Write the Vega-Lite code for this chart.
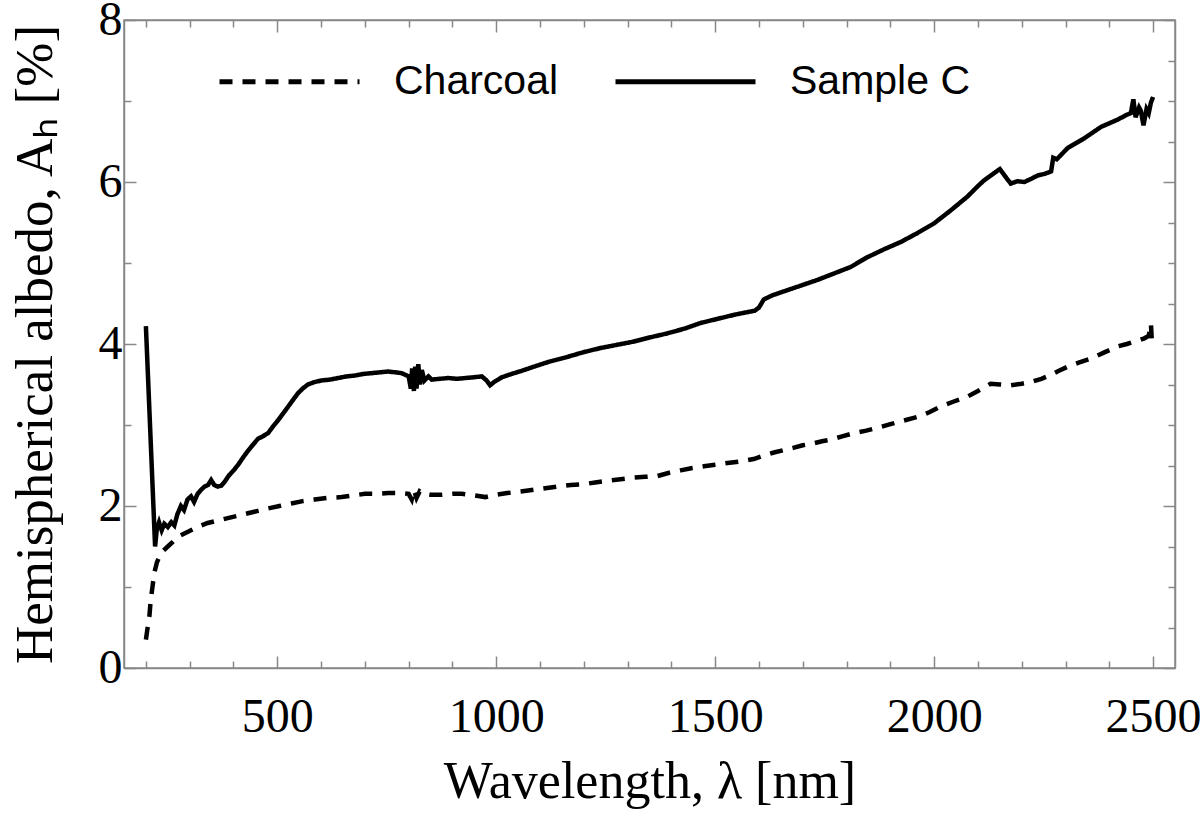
{
  "$schema": "https://vega.github.io/schema/vega-lite/v6.json",
  "width": 1051,
  "height": 648,
  "autosize": {"type": "none"},
  "padding": {"left": 124, "top": 20, "right": 25, "bottom": 155},
  "background": "white",
  "config": {
    "view": {"stroke": "#888888", "strokeWidth": 1.5},
    "axis": {
      "grid": false,
      "domainColor": "#888888",
      "domainWidth": 1.5,
      "tickColor": "#888888",
      "tickWidth": 1.5,
      "labelFont": "Liberation Serif",
      "titleFont": "Liberation Serif",
      "labelColor": "black",
      "titleColor": "black",
      "titleFontWeight": "normal"
    }
  },
  "data": {
    "values": [
      {"s": "Sample C", "w": 200, "a": 4.22},
      {"s": "Sample C", "w": 221, "a": 1.5},
      {"s": "Sample C", "w": 225, "a": 1.72},
      {"s": "Sample C", "w": 230, "a": 1.8},
      {"s": "Sample C", "w": 236, "a": 1.7},
      {"s": "Sample C", "w": 242, "a": 1.78},
      {"s": "Sample C", "w": 250, "a": 1.74},
      {"s": "Sample C", "w": 258, "a": 1.8},
      {"s": "Sample C", "w": 265, "a": 1.76},
      {"s": "Sample C", "w": 272, "a": 1.9},
      {"s": "Sample C", "w": 280, "a": 2.0},
      {"s": "Sample C", "w": 287, "a": 1.95},
      {"s": "Sample C", "w": 295, "a": 2.08},
      {"s": "Sample C", "w": 303, "a": 2.12},
      {"s": "Sample C", "w": 310, "a": 2.05},
      {"s": "Sample C", "w": 318, "a": 2.15},
      {"s": "Sample C", "w": 326, "a": 2.2},
      {"s": "Sample C", "w": 334, "a": 2.24},
      {"s": "Sample C", "w": 342, "a": 2.26},
      {"s": "Sample C", "w": 349, "a": 2.32},
      {"s": "Sample C", "w": 356, "a": 2.26},
      {"s": "Sample C", "w": 364, "a": 2.24},
      {"s": "Sample C", "w": 372, "a": 2.25},
      {"s": "Sample C", "w": 380, "a": 2.3},
      {"s": "Sample C", "w": 390, "a": 2.38},
      {"s": "Sample C", "w": 402, "a": 2.45},
      {"s": "Sample C", "w": 412, "a": 2.52},
      {"s": "Sample C", "w": 422, "a": 2.6},
      {"s": "Sample C", "w": 433, "a": 2.68},
      {"s": "Sample C", "w": 445, "a": 2.76},
      {"s": "Sample C", "w": 456, "a": 2.83},
      {"s": "Sample C", "w": 467, "a": 2.86},
      {"s": "Sample C", "w": 479, "a": 2.9},
      {"s": "Sample C", "w": 490, "a": 2.98},
      {"s": "Sample C", "w": 502, "a": 3.06},
      {"s": "Sample C", "w": 513, "a": 3.14},
      {"s": "Sample C", "w": 524, "a": 3.22},
      {"s": "Sample C", "w": 536, "a": 3.31},
      {"s": "Sample C", "w": 547, "a": 3.39},
      {"s": "Sample C", "w": 558, "a": 3.45},
      {"s": "Sample C", "w": 570, "a": 3.5},
      {"s": "Sample C", "w": 585, "a": 3.53},
      {"s": "Sample C", "w": 601, "a": 3.55},
      {"s": "Sample C", "w": 620, "a": 3.56},
      {"s": "Sample C", "w": 639, "a": 3.58},
      {"s": "Sample C", "w": 658, "a": 3.6},
      {"s": "Sample C", "w": 677, "a": 3.61},
      {"s": "Sample C", "w": 696, "a": 3.63},
      {"s": "Sample C", "w": 715, "a": 3.64},
      {"s": "Sample C", "w": 734, "a": 3.65},
      {"s": "Sample C", "w": 753, "a": 3.66},
      {"s": "Sample C", "w": 770, "a": 3.65},
      {"s": "Sample C", "w": 784, "a": 3.64},
      {"s": "Sample C", "w": 800, "a": 3.6},
      {"s": "Sample C", "w": 805, "a": 3.45},
      {"s": "Sample C", "w": 808, "a": 3.7},
      {"s": "Sample C", "w": 812, "a": 3.42},
      {"s": "Sample C", "w": 815, "a": 3.72},
      {"s": "Sample C", "w": 818, "a": 3.45},
      {"s": "Sample C", "w": 822, "a": 3.75},
      {"s": "Sample C", "w": 826, "a": 3.5},
      {"s": "Sample C", "w": 830, "a": 3.68},
      {"s": "Sample C", "w": 836, "a": 3.55},
      {"s": "Sample C", "w": 845, "a": 3.6},
      {"s": "Sample C", "w": 853, "a": 3.56},
      {"s": "Sample C", "w": 870, "a": 3.57},
      {"s": "Sample C", "w": 891, "a": 3.58},
      {"s": "Sample C", "w": 910, "a": 3.57},
      {"s": "Sample C", "w": 930, "a": 3.58},
      {"s": "Sample C", "w": 950, "a": 3.59},
      {"s": "Sample C", "w": 967, "a": 3.6},
      {"s": "Sample C", "w": 978, "a": 3.55},
      {"s": "Sample C", "w": 986, "a": 3.49},
      {"s": "Sample C", "w": 995, "a": 3.53},
      {"s": "Sample C", "w": 1013, "a": 3.59},
      {"s": "Sample C", "w": 1035, "a": 3.63},
      {"s": "Sample C", "w": 1059, "a": 3.67},
      {"s": "Sample C", "w": 1086, "a": 3.72},
      {"s": "Sample C", "w": 1120, "a": 3.78},
      {"s": "Sample C", "w": 1162, "a": 3.84},
      {"s": "Sample C", "w": 1200, "a": 3.9},
      {"s": "Sample C", "w": 1238, "a": 3.95},
      {"s": "Sample C", "w": 1276, "a": 3.99},
      {"s": "Sample C", "w": 1314, "a": 4.03},
      {"s": "Sample C", "w": 1350, "a": 4.08},
      {"s": "Sample C", "w": 1390, "a": 4.13},
      {"s": "Sample C", "w": 1430, "a": 4.19},
      {"s": "Sample C", "w": 1467, "a": 4.26},
      {"s": "Sample C", "w": 1505, "a": 4.31},
      {"s": "Sample C", "w": 1543, "a": 4.36},
      {"s": "Sample C", "w": 1570, "a": 4.39},
      {"s": "Sample C", "w": 1590, "a": 4.41},
      {"s": "Sample C", "w": 1600, "a": 4.45},
      {"s": "Sample C", "w": 1611, "a": 4.55},
      {"s": "Sample C", "w": 1630, "a": 4.6},
      {"s": "Sample C", "w": 1657, "a": 4.65},
      {"s": "Sample C", "w": 1695, "a": 4.72},
      {"s": "Sample C", "w": 1733, "a": 4.79},
      {"s": "Sample C", "w": 1771, "a": 4.87},
      {"s": "Sample C", "w": 1809, "a": 4.95},
      {"s": "Sample C", "w": 1847, "a": 5.07},
      {"s": "Sample C", "w": 1886, "a": 5.17},
      {"s": "Sample C", "w": 1924, "a": 5.26},
      {"s": "Sample C", "w": 1962, "a": 5.37},
      {"s": "Sample C", "w": 2000, "a": 5.49},
      {"s": "Sample C", "w": 2038, "a": 5.65},
      {"s": "Sample C", "w": 2076, "a": 5.82},
      {"s": "Sample C", "w": 2100, "a": 5.95},
      {"s": "Sample C", "w": 2114, "a": 6.02},
      {"s": "Sample C", "w": 2137, "a": 6.11},
      {"s": "Sample C", "w": 2150, "a": 6.16},
      {"s": "Sample C", "w": 2165, "a": 6.05},
      {"s": "Sample C", "w": 2175, "a": 5.98},
      {"s": "Sample C", "w": 2190, "a": 6.01},
      {"s": "Sample C", "w": 2206, "a": 6.0},
      {"s": "Sample C", "w": 2222, "a": 6.04},
      {"s": "Sample C", "w": 2236, "a": 6.08},
      {"s": "Sample C", "w": 2252, "a": 6.1},
      {"s": "Sample C", "w": 2267, "a": 6.13},
      {"s": "Sample C", "w": 2272, "a": 6.3},
      {"s": "Sample C", "w": 2280, "a": 6.28},
      {"s": "Sample C", "w": 2305, "a": 6.42},
      {"s": "Sample C", "w": 2343, "a": 6.54},
      {"s": "Sample C", "w": 2381, "a": 6.68},
      {"s": "Sample C", "w": 2419, "a": 6.77},
      {"s": "Sample C", "w": 2440, "a": 6.83},
      {"s": "Sample C", "w": 2449, "a": 6.85},
      {"s": "Sample C", "w": 2455, "a": 7.02},
      {"s": "Sample C", "w": 2460, "a": 6.8},
      {"s": "Sample C", "w": 2468, "a": 6.92},
      {"s": "Sample C", "w": 2472, "a": 6.88},
      {"s": "Sample C", "w": 2478, "a": 6.7},
      {"s": "Sample C", "w": 2485, "a": 6.9},
      {"s": "Sample C", "w": 2490, "a": 6.85},
      {"s": "Sample C", "w": 2495, "a": 6.98},
      {"s": "Sample C", "w": 2500, "a": 7.05},
      {"s": "Charcoal", "w": 200, "a": 0.35},
      {"s": "Charcoal", "w": 204, "a": 0.5},
      {"s": "Charcoal", "w": 208, "a": 0.64},
      {"s": "Charcoal", "w": 211, "a": 0.84},
      {"s": "Charcoal", "w": 215, "a": 1.0},
      {"s": "Charcoal", "w": 219, "a": 1.17},
      {"s": "Charcoal", "w": 225, "a": 1.3},
      {"s": "Charcoal", "w": 231, "a": 1.38},
      {"s": "Charcoal", "w": 240, "a": 1.45},
      {"s": "Charcoal", "w": 250, "a": 1.5},
      {"s": "Charcoal", "w": 262, "a": 1.56},
      {"s": "Charcoal", "w": 273, "a": 1.62},
      {"s": "Charcoal", "w": 288, "a": 1.66},
      {"s": "Charcoal", "w": 303, "a": 1.7},
      {"s": "Charcoal", "w": 322, "a": 1.75},
      {"s": "Charcoal", "w": 341, "a": 1.79},
      {"s": "Charcoal", "w": 364, "a": 1.82},
      {"s": "Charcoal", "w": 387, "a": 1.85},
      {"s": "Charcoal", "w": 410, "a": 1.88},
      {"s": "Charcoal", "w": 433, "a": 1.91},
      {"s": "Charcoal", "w": 456, "a": 1.94},
      {"s": "Charcoal", "w": 479, "a": 1.97},
      {"s": "Charcoal", "w": 505, "a": 2.0},
      {"s": "Charcoal", "w": 532, "a": 2.03},
      {"s": "Charcoal", "w": 558, "a": 2.06},
      {"s": "Charcoal", "w": 585, "a": 2.08},
      {"s": "Charcoal", "w": 615, "a": 2.1},
      {"s": "Charcoal", "w": 647, "a": 2.11},
      {"s": "Charcoal", "w": 673, "a": 2.13},
      {"s": "Charcoal", "w": 700, "a": 2.15},
      {"s": "Charcoal", "w": 727, "a": 2.15},
      {"s": "Charcoal", "w": 753, "a": 2.16},
      {"s": "Charcoal", "w": 780, "a": 2.16},
      {"s": "Charcoal", "w": 800, "a": 2.15},
      {"s": "Charcoal", "w": 807, "a": 2.08},
      {"s": "Charcoal", "w": 812, "a": 2.2},
      {"s": "Charcoal", "w": 818, "a": 2.1},
      {"s": "Charcoal", "w": 825, "a": 2.18},
      {"s": "Charcoal", "w": 830, "a": 2.16},
      {"s": "Charcoal", "w": 850, "a": 2.14},
      {"s": "Charcoal", "w": 876, "a": 2.14},
      {"s": "Charcoal", "w": 900, "a": 2.15},
      {"s": "Charcoal", "w": 921, "a": 2.15},
      {"s": "Charcoal", "w": 950, "a": 2.13},
      {"s": "Charcoal", "w": 975, "a": 2.11},
      {"s": "Charcoal", "w": 1000, "a": 2.14},
      {"s": "Charcoal", "w": 1025, "a": 2.16},
      {"s": "Charcoal", "w": 1056, "a": 2.18},
      {"s": "Charcoal", "w": 1086, "a": 2.2},
      {"s": "Charcoal", "w": 1112, "a": 2.22},
      {"s": "Charcoal", "w": 1139, "a": 2.24},
      {"s": "Charcoal", "w": 1170, "a": 2.26},
      {"s": "Charcoal", "w": 1200, "a": 2.27},
      {"s": "Charcoal", "w": 1226, "a": 2.29},
      {"s": "Charcoal", "w": 1253, "a": 2.31},
      {"s": "Charcoal", "w": 1284, "a": 2.33},
      {"s": "Charcoal", "w": 1314, "a": 2.35},
      {"s": "Charcoal", "w": 1340, "a": 2.36},
      {"s": "Charcoal", "w": 1368, "a": 2.37},
      {"s": "Charcoal", "w": 1395, "a": 2.41},
      {"s": "Charcoal", "w": 1421, "a": 2.44},
      {"s": "Charcoal", "w": 1448, "a": 2.47},
      {"s": "Charcoal", "w": 1474, "a": 2.49},
      {"s": "Charcoal", "w": 1500, "a": 2.51},
      {"s": "Charcoal", "w": 1528, "a": 2.53},
      {"s": "Charcoal", "w": 1558, "a": 2.55},
      {"s": "Charcoal", "w": 1588, "a": 2.58},
      {"s": "Charcoal", "w": 1610, "a": 2.62},
      {"s": "Charcoal", "w": 1634, "a": 2.66},
      {"s": "Charcoal", "w": 1657, "a": 2.69},
      {"s": "Charcoal", "w": 1680, "a": 2.72},
      {"s": "Charcoal", "w": 1700, "a": 2.75},
      {"s": "Charcoal", "w": 1722, "a": 2.77},
      {"s": "Charcoal", "w": 1744, "a": 2.8},
      {"s": "Charcoal", "w": 1764, "a": 2.82},
      {"s": "Charcoal", "w": 1790, "a": 2.86},
      {"s": "Charcoal", "w": 1817, "a": 2.9},
      {"s": "Charcoal", "w": 1845, "a": 2.93},
      {"s": "Charcoal", "w": 1874, "a": 2.97},
      {"s": "Charcoal", "w": 1900, "a": 3.01},
      {"s": "Charcoal", "w": 1920, "a": 3.04},
      {"s": "Charcoal", "w": 1962, "a": 3.1},
      {"s": "Charcoal", "w": 1990, "a": 3.16},
      {"s": "Charcoal", "w": 2015, "a": 3.23},
      {"s": "Charcoal", "w": 2045, "a": 3.29},
      {"s": "Charcoal", "w": 2076, "a": 3.35},
      {"s": "Charcoal", "w": 2100, "a": 3.42},
      {"s": "Charcoal", "w": 2129, "a": 3.51},
      {"s": "Charcoal", "w": 2150, "a": 3.5},
      {"s": "Charcoal", "w": 2175, "a": 3.49},
      {"s": "Charcoal", "w": 2200, "a": 3.51},
      {"s": "Charcoal", "w": 2221, "a": 3.53},
      {"s": "Charcoal", "w": 2245, "a": 3.57},
      {"s": "Charcoal", "w": 2267, "a": 3.62},
      {"s": "Charcoal", "w": 2285, "a": 3.67},
      {"s": "Charcoal", "w": 2305, "a": 3.72},
      {"s": "Charcoal", "w": 2330, "a": 3.77},
      {"s": "Charcoal", "w": 2358, "a": 3.82},
      {"s": "Charcoal", "w": 2390, "a": 3.9},
      {"s": "Charcoal", "w": 2419, "a": 3.97},
      {"s": "Charcoal", "w": 2440, "a": 4.0},
      {"s": "Charcoal", "w": 2457, "a": 4.03},
      {"s": "Charcoal", "w": 2470, "a": 4.05},
      {"s": "Charcoal", "w": 2480, "a": 4.07},
      {"s": "Charcoal", "w": 2490, "a": 4.1},
      {"s": "Charcoal", "w": 2495, "a": 4.25},
      {"s": "Charcoal", "w": 2497, "a": 4.05},
      {"s": "Charcoal", "w": 2500, "a": 4.12}
    ]
  },
  "layer": [
    {
      "mark": {"type": "line", "color": "black", "strokeWidth": 4.5},
      "encoding": {
        "x": {
          "field": "w",
          "type": "quantitative",
          "scale": {"domain": [150, 2550], "nice": false, "zero": false},
          "axis": {
            "orient": "bottom",
            "title": "Wavelength, λ [nm]",
            "format": "d",
            "values": [200, 300, 400, 500, 600, 700, 800, 900, 1000, 1100, 1200, 1300, 1400, 1500, 1600, 1700, 1800, 1900, 2000, 2100, 2200, 2300, 2400, 2500],
            "labelExpr": "datum.value % 500 === 0 ? datum.label : ''",
            "tickSize": {"condition": {"test": "datum.value % 500 === 0", "value": -12}, "value": -7},
            "labelFontSize": 48,
            "labelPadding": 37,
            "titleFontSize": 52,
            "titlePadding": 15
          }
        },
        "y": {
          "field": "a",
          "type": "quantitative",
          "scale": {"domain": [0, 8], "nice": false},
          "axis": {
            "orient": "left",
            "title": "Hemispherical albedo, Aₕ [%]",
            "format": "d",
            "values": [0, 0.5, 1, 1.5, 2, 2.5, 3, 3.5, 4, 4.5, 5, 5.5, 6, 6.5, 7, 7.5, 8],
            "labelExpr": "datum.value % 2 === 0 ? datum.label : ''",
            "tickSize": {"condition": {"test": "datum.value % 2 === 0", "value": -12}, "value": -7},
            "labelFontSize": 48,
            "labelPadding": 14,
            "titleFontSize": 53,
            "titlePadding": 36
          }
        },
        "strokeDash": {
          "field": "s",
          "type": "nominal",
          "scale": {"domain": ["Charcoal", "Sample C"], "range": [[13, 10], [1, 0]]},
          "legend": {
            "orient": "none",
            "legendX": 93,
            "legendY": -11,
            "direction": "horizontal",
            "title": null,
            "symbolType": "stroke",
            "symbolSize": 19600,
            "symbolStrokeWidth": 5,
            "symbolStrokeColor": "black",
            "labelFont": "Liberation Sans",
            "labelFontSize": 41,
            "labelColor": "black",
            "labelLimit": 400,
            "labelOffset": 32,
            "columnPadding": 46,
            "encode": {
              "symbols": {
                "update": {
                  "strokeDash": {"signal": "datum.value === 'Charcoal' ? [20, 20] : [1, 0]"}
                }
              }
            }
          }
        }
      }
    },
    {
      "mark": {"type": "point", "opacity": 0},
      "encoding": {
        "x": {
          "field": "w",
          "type": "quantitative",
          "axis": {
            "orient": "top",
            "title": null,
            "labels": false,
            "values": [200, 300, 400, 500, 600, 700, 800, 900, 1000, 1100, 1200, 1300, 1400, 1500, 1600, 1700, 1800, 1900, 2000, 2100, 2200, 2300, 2400, 2500],
            "tickSize": {"condition": {"test": "datum.value % 500 === 0", "value": -12}, "value": -7}
          }
        },
        "y": {
          "field": "a",
          "type": "quantitative",
          "axis": {
            "orient": "right",
            "title": null,
            "labels": false,
            "values": [0, 0.5, 1, 1.5, 2, 2.5, 3, 3.5, 4, 4.5, 5, 5.5, 6, 6.5, 7, 7.5, 8],
            "tickSize": {"condition": {"test": "datum.value % 2 === 0", "value": -12}, "value": -7}
          }
        }
      }
    }
  ],
  "resolve": {"axis": {"x": "independent", "y": "independent"}}
}
